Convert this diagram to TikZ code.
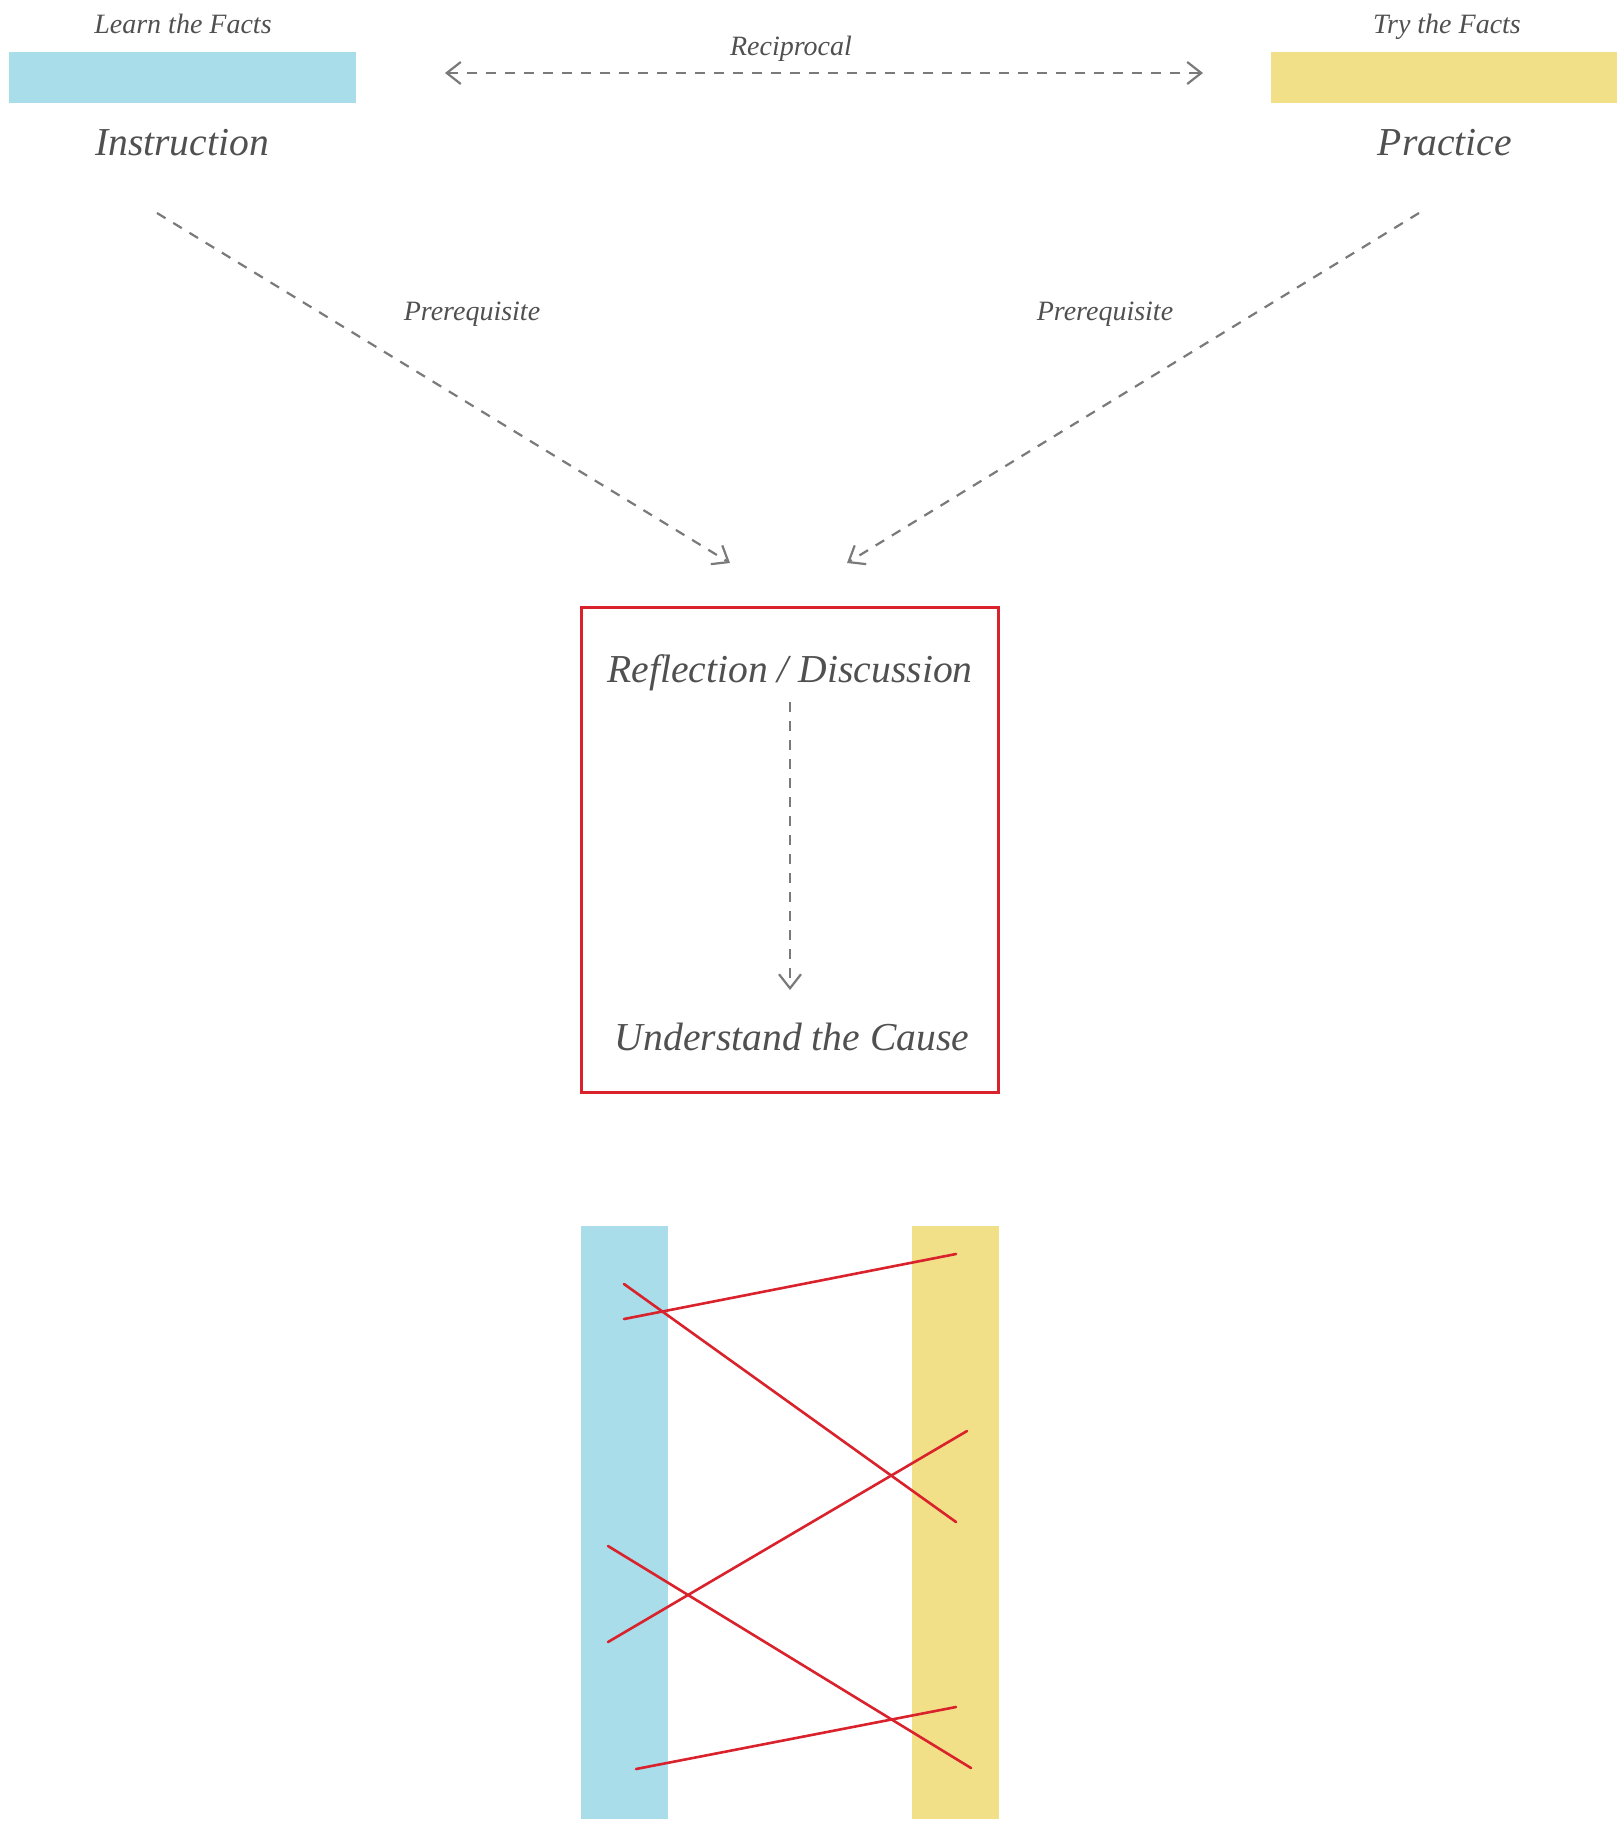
\documentclass[tikz,border=0pt]{standalone}
\usepackage{fontspec}
\setmainfont{Liberation Serif}
\usetikzlibrary{arrows.meta}
\definecolor{factblue}{HTML}{A8DDE9}
\definecolor{factyellow}{HTML}{F1E087}
\definecolor{causered}{HTML}{D9222B}
\definecolor{labelgray}{HTML}{505050}
\definecolor{arrowgray}{HTML}{7A7A7A}

\begin{document}
\begin{tikzpicture}[x=0.5pt, y=-0.5pt,
	topbar/.style={inner sep=0pt, minimum width=173.5pt, minimum height=25.5pt},
	lowbar/.style={inner sep=0pt, minimum width=43.5pt, minimum height=296.5pt},
	small/.style={font=\itshape\fontsize{14}{16}\selectfont, text=labelgray, anchor=base, inner sep=0pt},
	big/.style={font=\itshape\fontsize{19.8}{24}\selectfont, text=labelgray, anchor=base, inner sep=0pt},
	dasharrow/.style={draw=arrowgray, line width=1.1pt, dash pattern=on 5pt off 4.5pt},
	crossline/.style={draw=causered, line width=1.3pt, line cap=round}]
	\useasboundingbox (0,0) rectangle (1617,1821);
	% top row
	\node[topbar, fill=factblue] (instrbar) at (182.5, 77.5) {};
	\node[topbar, fill=factyellow] (practbar) at (1444.5, 77.5) {};
	\node[small] (learn) at (183, 33) {Learn the Facts};
	\node[small] (try) at (1447, 33) {Try the Facts};
	\node[big] (instr) at (182, 155) {Instruction};
	\node[big] (pract) at (1445, 155) {Practice};
	\node[small] (recip) at (791, 55) {Reciprocal};
		\coordinate (recl) at (445, 73);
		\coordinate (recr) at (1203, 73);
	\draw[dasharrow, {Straight Barb[length=7pt,width=11pt]}-{Straight Barb[length=7pt,width=11pt]}] (recl) -- (recr);
	% prerequisites
	\node[small] (prel) at (472, 320) {Prerequisite};
	\node[small] (prer) at (1105, 320) {Prerequisite};
		\coordinate (instrout) at (157, 213);
		\coordinate (practout) at (1419, 213);
		\coordinate (tipl) at (730, 563);
		\coordinate (tipr) at (847, 563);
	\draw[dasharrow, -{Straight Barb[length=7pt,width=11pt]}] (instrout) -- (tipl);
	\draw[dasharrow, -{Straight Barb[length=7pt,width=11pt]}] (practout) -- (tipr);
	% reflection box
	\node[draw=causered, line width=1.5pt, inner sep=0pt, minimum width=208.5pt, minimum height=242.5pt] (causebox) at (789.5, 849.5) {};
	\node[big] (refl) at (790, 682) {Reflection / Discussion};
	\node[big] (under) at (792, 1050) {Understand the Cause};
		\coordinate (reflout) at (790, 702);
		\coordinate (underin) at (790, 990);
	\draw[dasharrow, -{Straight Barb[length=7pt,width=11pt]}] (reflout) -- (underin);
	% bottom bars
	\node[lowbar, fill=factblue] (bluebar) at (624, 1522.5) {};
	\node[lowbar, fill=factyellow] (yellowbar) at (955.5, 1522.5) {};
	\draw[crossline] (624, 1319) -- (956, 1254);
	\draw[crossline] (624, 1284) -- (956, 1522);
	\draw[crossline] (608, 1642) -- (967, 1431);
	\draw[crossline] (608, 1546) -- (971, 1768);
	\draw[crossline] (636, 1769) -- (956, 1707);
\end{tikzpicture}
\end{document}
